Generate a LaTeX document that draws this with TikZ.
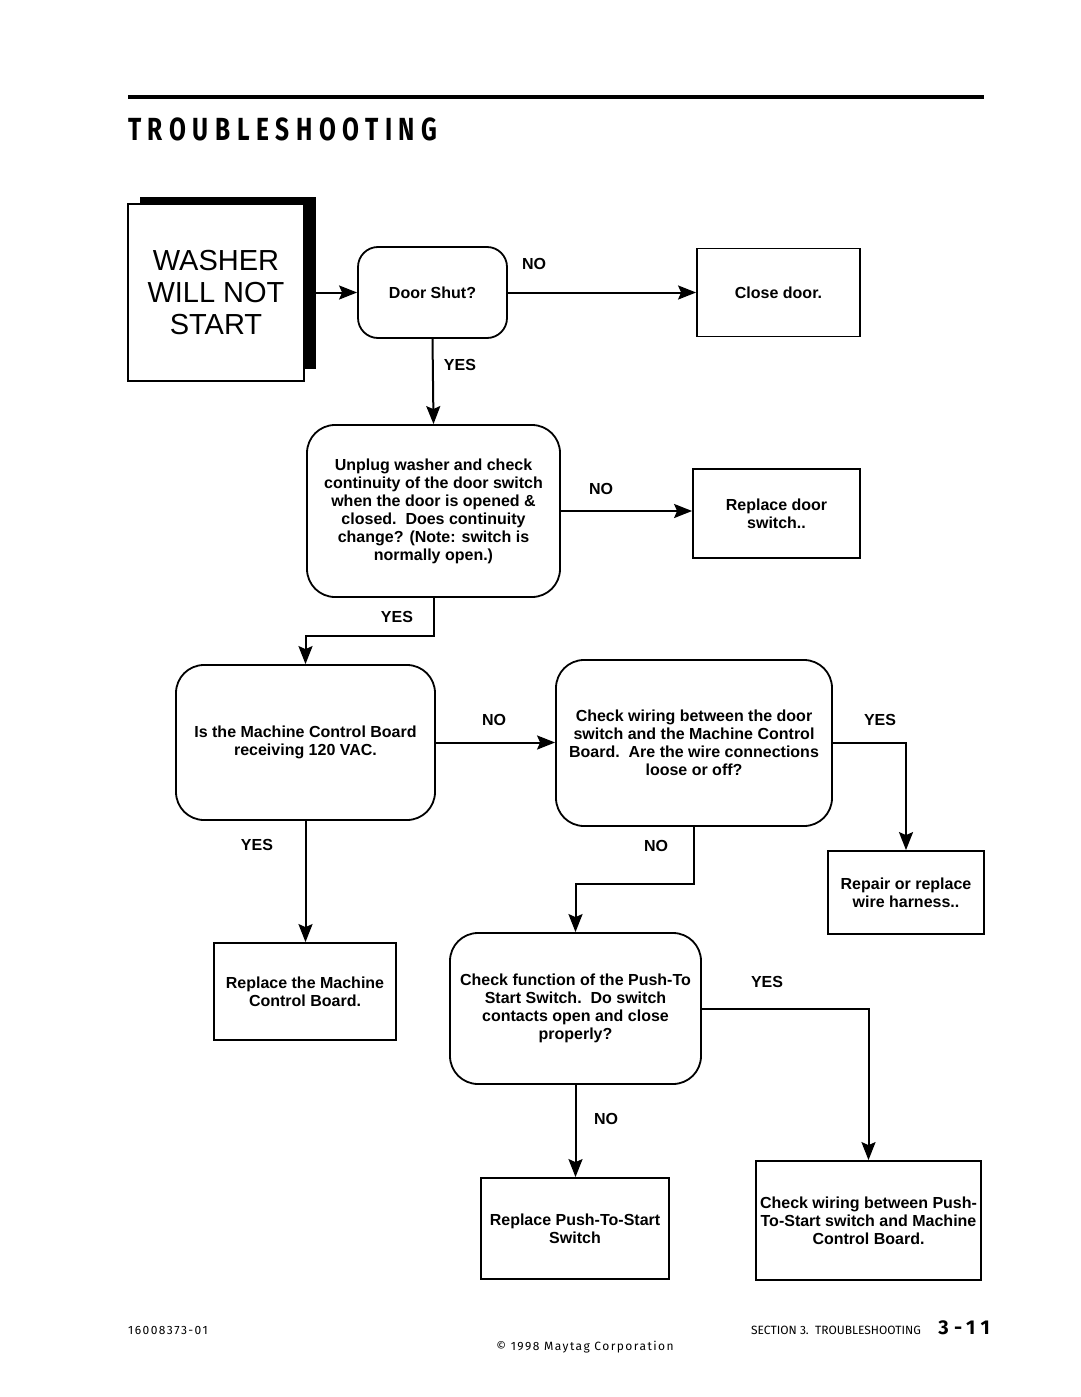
\documentclass[tikz,border=0pt]{standalone}
\usepackage{fontspec}
\setmainfont{Liberation Sans}
\newfontfamily\titlefont{Fira Sans}[LetterSpace=27]
\newfontfamily\footfont{Fira Sans}[LetterSpace=12]
\newfontfamily\footfontb{Fira Sans}
\usetikzlibrary{arrows.meta}
\begin{document}
\begin{tikzpicture}[x=1pt,y=-1pt,
  box/.style={draw, line width=1.8pt, align=center, inner sep=0pt,
    font=\fontsize{16}{18}\selectfont\bfseries},
  rbox/.style={box, rounded corners=28pt},
  lbl/.style={font=\fontsize{16}{18}\selectfont\bfseries, inner sep=0pt},
  conn/.style={line width=2pt},
  arr/.style={conn, -{Stealth[length=18pt,width=14pt,inset=3pt]}},
  foot/.style={font=\footfont\fontsize{12}{12}\selectfont, inner sep=0pt}]
\useasboundingbox (0,0) rectangle (1080,1397);
\fill[white] (0,0) rectangle (1080,1397);
% header
\draw[line width=4pt] (128,97) -- (984,97);
\node[anchor=base west, xscale=0.765, inner sep=0pt, font=\titlefont\bfseries\fontsize{32}{32}\selectfont] (title) at (128,140) {TROUBLESHOOTING};
% start box with shadow
\fill (140,197) rectangle (316,369);
\node[box, fill=white, minimum width=176pt, minimum height=177pt, font=\fontsize{29}{32}\selectfont] (washer) at (216,292.5) {WASHER\\WILL NOT\\START};
% nodes
\node[rbox, rounded corners=20pt, minimum width=149pt, minimum height=91pt] (door) at (432.5,292.5) {Door Shut?};
\node[box, minimum width=163pt, minimum height=88pt] (close) at (778.5,292.5) {Close door.};
\node[rbox, minimum width=253pt, minimum height=172pt] (unplug) at (433.5,511) {Unplug washer and check\\continuity of the door switch\\when the door is opened \&\\closed.\ \ Does continuity\\change? (Note: switch is\\normally open.)};
\node[box, minimum width=167pt, minimum height=89pt] (repldoor) at (776.5,513.5) {Replace door\\switch..};
\node[rbox, minimum width=259pt, minimum height=155pt] (mcb) at (305.5,742.5) {Is the Machine Control Board\\receiving 120 VAC.};
\node[rbox, minimum width=276pt, minimum height=166pt] (wire) at (694,743) {Check wiring between the door\\switch and the Machine Control\\Board.\ \ Are the wire connections\\loose or off?};
\node[box, minimum width=156pt, minimum height=83pt] (repair) at (906,892.5) {Repair or replace\\wire harness..};
\node[box, minimum width=182pt, minimum height=97pt] (replmcb) at (305,991.5) {Replace the Machine\\Control Board.};
\node[rbox, minimum width=251pt, minimum height=151pt] (pts) at (575.5,1008.5) {Check function of the Push-To\\Start Switch.\ \ Do switch\\contacts open and close\\properly?};
\node[box, minimum width=188pt, minimum height=101pt] (replpts) at (575,1228.5) {Replace Push-To-Start\\Switch};
\node[box, minimum width=225pt, minimum height=119pt] (pushwire) at (868.5,1220.5) {Check wiring between Push-\\To-Start switch and Machine\\Control Board.};
% connectors
\draw[arr] (washer.east) -- (door.west);
\draw[arr] (door.east) -- (close.west);
\draw[arr] (door.south) -- (unplug.north);
\draw[arr] (unplug.east) -- (unplug.east -| repldoor.west);
\draw[arr] (unplug.south) -- ++(0,38) -| (mcb.north);
\draw[arr] (mcb.east) -- (mcb.east -| wire.west);
\draw[arr] (wire.east) -| (repair.north);
\draw[arr] (mcb.south) -- (mcb.south |- replmcb.north);
\draw[arr] (wire.south) -- ++(0,57) -| (pts.north);
\draw[arr] (pts.east) -| (pushwire.north);
\draw[arr] (pts.south) -- (pts.south |- replpts.north);
% labels
\node[lbl] (l1) at (534,264) {NO};
\node[lbl] (l2) at (460,365) {YES};
\node[lbl] (l3) at (601,489) {NO};
\node[lbl] (l4) at (397,617) {YES};
\node[lbl] (l5) at (494,720) {NO};
\node[lbl] (l6) at (880,720) {YES};
\node[lbl] (l7) at (257,845) {YES};
\node[lbl] (l8) at (656,846) {NO};
\node[lbl] (l9) at (767,982) {YES};
\node[lbl] (l10) at (606,1119) {NO};
% footer
\node[foot, anchor=base west] (f1) at (128,1334) {16008373-01};
\node[inner sep=0pt, anchor=base east, font=\footfontb\fontsize{12}{12}\selectfont] (f2) at (921,1334) {SECTION 3.\ \ TROUBLESHOOTING};
\node[anchor=base east, inner sep=0pt, font=\titlefont\bfseries\fontsize{20}{20}\selectfont] (f3) at (990,1334) {3-11};
\node[foot, anchor=base] (f4) at (585,1350) {© 1998 Maytag Corporation};
\end{tikzpicture}
\end{document}
